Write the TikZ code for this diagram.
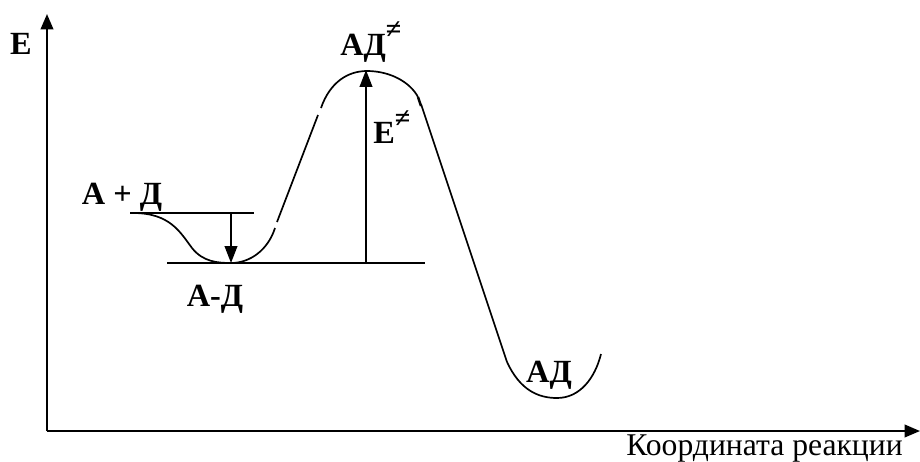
\documentclass[tikz,border=0pt]{standalone}
\usepackage{fontspec}
\setmainfont{Liberation Serif}
\usetikzlibrary{arrows.meta}

\newcommand{\nesup}{\raisebox{0.5em}{\fontsize{20}{20}\selectfont ≠}}

\tikzset{
    axis/.style={line width=1.4pt, -{Triangle[length=11pt, width=9pt]}},
    level/.style={line width=1.2pt},
    curve/.style={line width=1.2pt},
    lbl/.style={font=\bfseries\fontsize{23}{23}\selectfont, inner sep=0pt},
}

\begin{document}
\begin{tikzpicture}[x=0.025cm, y=-0.025cm]
    \useasboundingbox (0,0) rectangle (920,461);

    % axes
    \coordinate (origin) at (47,431);
    \coordinate (ytip) at (47,14);
    \coordinate (xtip) at (920,431);
    \draw[axis] (origin) -- (ytip);
    \draw[axis] (origin) -- (xtip);
    \node[lbl] (elabel) at (21,44) {Е};
    \node[font=\fontsize{22.5}{22.5}\selectfont, inner sep=0pt, anchor=base east] (xlabel) at (903,455) {Координата реакции};

    % energy levels
    \coordinate (startL) at (130,213);
    \coordinate (startR) at (254,213);
    \coordinate (wellL) at (167,263);
    \coordinate (wellR) at (425,263);
    \draw[level] (startL) -- (startR);
    \draw[level] (wellL) -- (wellR);

    % reaction path
    \draw[curve] (133,213) .. controls (170,213) and (180,232) .. (192,248)
        .. controls (203,262) and (218,263) .. (231,263)
        .. controls (250,263) and (268,250) .. (275,228);
    \draw[curve] (277,222) -- (318,115);
    \draw[curve] (321,108) .. controls (330,82) and (348,71) .. (367,71)
        .. controls (390,71) and (410,82) .. (418,97);
    \draw[line width=1.7pt] (418,97) -- (421,106);
    \draw[curve] (421,104) -- (507,362);
    \draw[curve] (507,362) .. controls (520,390) and (538,398) .. (557,398)
        .. controls (580,398) and (595,378) .. (601,354);

    % energy arrows
    \coordinate (bindtop) at (231,213);
    \coordinate (bindbot) at (231,263);
    \coordinate (acttop) at (366,70);
    \coordinate (actbot) at (366,263);
    \draw[level, -{Triangle[length=12pt, width=9pt]}] (bindtop) -- (bindbot);
    \draw[level, -{Triangle[length=12pt, width=9pt]}] (actbot) -- (acttop);

    % labels
    \node[lbl] (reactants) at (122,197) {А + Д};
    \node[lbl] (complex) at (215,299) {А-Д};
    \node[lbl, anchor=west] (ts) at (340,42) {АД\nesup};
    \node[lbl, anchor=west] (eact) at (373,127) {Е\nesup};
    \node[lbl] (product) at (549,375) {АД};
\end{tikzpicture}
\end{document}
